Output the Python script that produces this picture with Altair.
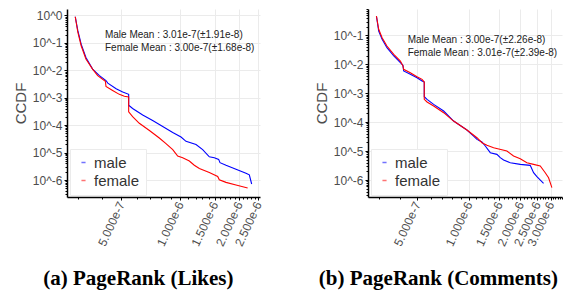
import altair as alt
import pandas as pd

series = ["male", "female"]
colors = ["#0000ff", "#ff0000"]

# (a) PageRank (Likes)
likes_male_x = [2.92e-7, 3.01e-7, 3.13e-7, 3.31e-7, 3.58e-7, 3.88e-7, 4.19e-7, 4.28e-7, 4.72e-7, 5.10e-7,
                5.47e-7, 5.47e-7, 5.73e-7, 6.45e-7, 7.25e-7, 8.16e-7, 9.18e-7, 1.012e-6, 1.073e-6, 1.207e-6,
                1.305e-6, 1.411e-6, 1.497e-6, 1.575e-6, 1.600e-6, 1.717e-6, 1.931e-6, 2.171e-6, 2.258e-6, 2.321e-6]
likes_male_y = [0.90, 0.28, 0.090, 0.0295, 0.0111, 6.41e-3, 4.24e-3, 3.40e-3, 2.13e-3, 1.61e-3,
                1.33e-3, 5.36e-4, 4.07e-4, 2.34e-4, 1.47e-4, 8.92e-5, 5.43e-5, 3.69e-5, 2.58e-5, 1.96e-5,
                1.29e-5, 7.05e-6, 6.49e-6, 5.66e-6, 4.30e-6, 3.45e-6, 2.47e-6, 1.78e-6, 1.55e-6, 7.15e-7]
likes_female_x = [2.92e-7, 3.01e-7, 3.13e-7, 3.31e-7, 3.58e-7, 3.80e-7, 4.16e-7, 4.19e-7, 4.53e-7, 4.90e-7,
                  5.20e-7, 5.47e-7, 5.47e-7, 5.73e-7, 6.20e-7, 6.98e-7, 7.84e-7, 8.48e-7, 9.18e-7, 9.73e-7,
                  1.032e-6, 1.116e-6, 1.183e-6, 1.255e-6, 1.411e-6, 1.557e-6, 1.587e-6, 1.717e-6, 1.931e-6, 2.214e-6]
likes_female_y = [0.90, 0.245, 0.079, 0.0258, 0.0111, 6.41e-3, 4.01e-3, 2.58e-3, 1.85e-3, 1.33e-3,
                  1.13e-3, 1.07e-3, 3.08e-4, 2.04e-4, 1.17e-4, 6.41e-5, 3.40e-5, 2.13e-5, 1.29e-5, 7.45e-6,
                  6.49e-6, 4.93e-6, 3.45e-6, 2.61e-6, 1.88e-6, 1.35e-6, 1.02e-6, 8.20e-7, 6.59e-7, 5.14e-7]

# (b) PageRank (Comments)
comments_male_x = [2.90e-7, 2.99e-7, 3.13e-7, 3.34e-7, 3.66e-7, 4.00e-7, 4.14e-7, 4.18e-7, 4.57e-7, 5.00e-7,
                   5.35e-7, 5.51e-7, 5.51e-7, 5.72e-7, 6.25e-7, 7.15e-7, 8.17e-7, 9.77e-7, 1.069e-6, 1.118e-6,
                   1.195e-6, 1.250e-6, 1.337e-6, 1.461e-6, 1.528e-6, 1.598e-6, 1.748e-6, 1.999e-6, 2.285e-6,
                   2.390e-6, 2.499e-6, 2.733e-6]
comments_male_y = [0.465, 0.141, 0.0726, 0.0374, 0.0193, 0.0113, 9.17e-3, 5.84e-3, 4.48e-3, 3.43e-3,
                   2.64e-3, 2.43e-3, 7.58e-4, 6.13e-4, 4.12e-4, 2.42e-4, 1.09e-4, 5.35e-5, 3.31e-5, 2.54e-5,
                   2.06e-5, 1.50e-5, 8.80e-6, 7.71e-6, 5.91e-6, 4.91e-6, 3.97e-6, 3.48e-6, 3.21e-6,
                   1.79e-6, 1.30e-6, 7.67e-7]
comments_female_x = [2.90e-7, 2.99e-7, 3.13e-7, 3.34e-7, 3.66e-7, 4.00e-7, 4.14e-7, 4.18e-7, 4.57e-7, 5.00e-7,
                     5.35e-7, 5.51e-7, 5.51e-7, 5.72e-7, 6.25e-7, 7.15e-7, 8.17e-7, 9.77e-7, 1.118e-6, 1.195e-6,
                     1.278e-6, 1.398e-6, 1.671e-6, 1.827e-6, 1.999e-6, 2.185e-6, 2.390e-6, 2.614e-6, 2.795e-6,
                     2.923e-6, 3.056e-6]
comments_female_y = [0.465, 0.161, 0.0828, 0.0427, 0.0220, 0.0129, 8.69e-3, 6.67e-3, 5.11e-3, 3.72e-3,
                     3.01e-3, 2.43e-3, 6.13e-4, 4.96e-4, 3.61e-4, 2.12e-4, 1.09e-4, 5.35e-5, 2.90e-5, 1.95e-5,
                     1.58e-5, 1.31e-5, 1.00e-5, 6.75e-6, 5.46e-6, 3.97e-6, 3.48e-6, 3.05e-6, 1.79e-6,
                     1.20e-6, 5.43e-7]

likes_notes = ["Male Mean : 3.01e-7(\u00b11.91e-8)", "Female Mean : 3.00e-7(\u00b11.68e-8)"]
likes_note_x = [4.14e-7, 4.14e-7]
likes_note_y = [0.19, 0.067]
comments_notes = ["Male Mean : 3.00e-7(\u00b12.26e-8)", "Female Mean : 3.01e-7(\u00b12.39e-8)"]
comments_note_x = [4.41e-7, 4.41e-7]
comments_note_y = [0.0689, 0.0251]

likes_xticks = [5e-7, 1e-6, 1.5e-6, 2e-6, 2.5e-6]
comments_xticks = [5e-7, 1e-6, 1.5e-6, 2e-6, 2.5e-6, 3e-6]
ytick_values = [1e-6, 1e-5, 1e-4, 1e-3, 1e-2, 1e-1, 1.0]

likes_xdomain = [2.65e-7, 2.56e-6]
likes_ydomain = [2.40e-7, 1.726]
comments_xdomain = [2.59e-7, 3.50e-6]
comments_ydomain = [2.59e-7, 0.811]

captions = ["(a) PageRank (Likes)", "(b) PageRank (Comments)"]

x_minor_all = [k * 1e-7 for k in range(2, 40)]
y_minor_all = [m * 10.0 ** e for e in range(-7, 1) for m in range(1, 10)]


def inside(vals, dom):
    return [v for v in vals if dom[0] <= v <= dom[1]]


def panel(mx, my, fx, fy, notes, nx, ny, xticks, xdom, ydom, width, caption):
    rows = []
    for s, xs_, ys_ in (("male", mx, my), ("female", fx, fy)):
        for i, (a, b) in enumerate(zip(xs_, ys_)):
            rows.append({"series": s, "x": a, "y": b, "i": i})
    df = pd.DataFrame(rows)
    xsc = alt.Scale(type="log", domain=xdom, nice=False)
    ysc = alt.Scale(type="log", domain=ydom, nice=False)
    lines = alt.Chart(df).mark_line(strokeWidth=1.1, clip=True).encode(
        x=alt.X("x:Q", scale=xsc, title=None,
                axis=alt.Axis(values=inside(xticks, xdom), format=".3e", labelAngle=-65,
                              labelAlign="right", labelBaseline="middle", tickSize=3,
                              labelPadding=2, grid=True, labelOverlap=False)),
        y=alt.Y("y:Q", scale=ysc, title="CCDF",
                axis=alt.Axis(values=inside(ytick_values, ydom),
                              labelExpr="'10^' + round(log(datum.value) / LN10)",
                              tickSize=3, labelPadding=2, titlePadding=4, grid=True,
                              labelOverlap=False)),
        color=alt.Color("series:N", scale=alt.Scale(domain=series, range=colors),
                        legend=alt.Legend(orient="none", legendX=3, legendY=140, title=None,
                                          fillColor="white", strokeColor="#ebebeb", padding=6,
                                          symbolType="stroke", symbolStrokeWidth=1.5, symbolSize=17,
                                          symbolOpacity=0.55, labelFontSize=15, labelColor="#333333",
                                          labelOffset=3, rowPadding=2, labelFont="Liberation Sans")),
        order="i:Q",
    )
    ndf = pd.DataFrame({"t": notes, "x": nx, "y": ny})
    text = alt.Chart(ndf).mark_text(align="left", baseline="middle", fontSize=10,
                                    color="#222222", font="Liberation Sans").encode(
        x=alt.X("x:Q", scale=xsc, title=None,
                axis=alt.Axis(orient="bottom", values=inside(x_minor_all, xdom), labels=False,
                              grid=False, domain=False, tickSize=2)),
        y=alt.Y("y:Q", scale=ysc, title=None,
                axis=alt.Axis(orient="left", values=inside(y_minor_all, ydom), labels=False,
                              grid=False, domain=False, tickSize=2)),
        text="t:N",
    )
    return alt.layer(lines, text).resolve_axis(x="independent", y="independent").properties(
        width=width, height=188,
        title=alt.TitleParams(caption, orient="bottom", anchor="middle", frame="bounds",
                              font="Liberation Serif", fontWeight="bold", fontSize=21,
                              color="black", offset=21))


left = panel(likes_male_x, likes_male_y, likes_female_x, likes_female_y, likes_notes,
             likes_note_x, likes_note_y, likes_xticks, likes_xdomain, likes_ydomain, 193, captions[0])
right = panel(comments_male_x, comments_male_y, comments_female_x, comments_female_y, comments_notes,
              comments_note_x, comments_note_y, comments_xticks, comments_xdomain, comments_ydomain, 194,
              captions[1])

chart = alt.hconcat(left, right, spacing=108, bounds="flush").resolve_scale(
    color="independent").resolve_legend(color="independent").properties(
    padding={"left": 5, "top": 0, "right": 0, "bottom": 0}
).configure(font="Liberation Sans").configure_view(strokeWidth=0).configure_axis(
    domainColor="black", domainWidth=1.5, tickColor="black", tickWidth=1,
    gridColor="#ebebeb", gridWidth=1, labelColor="#4d4d4d", labelFontSize=12,
    labelFont="Liberation Sans", titleFont="Liberation Sans", titleFontSize=15,
    titleColor="#4d4d4d", titleFontWeight="normal")

chart.save("out.html", embed_options={"renderer": "svg", "actions": False})
